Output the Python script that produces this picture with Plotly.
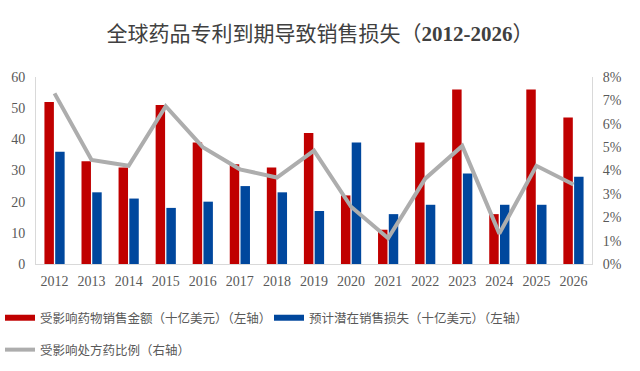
import plotly.graph_objects as go

years = ["2012","2013","2014","2015","2016","2017","2018","2019","2020","2021","2022","2023","2024","2025","2026"]
sales = [52, 33, 31, 51, 39, 32, 31, 42, 22, 11, 39, 56, 16, 56, 47]
loss = [36, 23, 21, 18, 20, 25, 23, 17, 39, 16, 19, 29, 19, 19, 28]
ratio = [7.3, 4.45, 4.2, 6.75, 5.0, 4.05, 3.7, 4.85, 2.45, 1.1, 3.65, 5.05, 1.3, 4.2, 3.4]

names = ["受影响药物销售金额（十亿美元）（左轴）", "预计潜在销售损失（十亿美元）（左轴）", "受影响处方药比例（右轴）"]
red = "#C00000"
blue = "#00479D"
gray = "#ADADAD"

font_main = "Liberation Serif, Noto Sans CJK SC, serif"

fig = go.Figure()
fig.add_trace(go.Bar(x=years, y=sales, name=names[0], marker_color=red,
                     marker_line_width=0, showlegend=False))
fig.add_trace(go.Bar(x=years, y=loss, name=names[1], marker_color=blue,
                     marker_line_width=0, showlegend=False))
fig.add_trace(go.Scatter(x=years, y=ratio, name=names[2], mode="lines",
                         line=dict(color=gray, width=4), yaxis="y2", legend="legend2"))
# legend keys drawn as thick lines as in the reference
fig.add_trace(go.Scatter(x=[None], y=[None], name=names[0], mode="lines",
                         line=dict(color=red, width=6), legend="legend"))
fig.add_trace(go.Scatter(x=[None], y=[None], name=names[1], mode="lines",
                         line=dict(color=blue, width=6), legend="legend"))

legfont = dict(family=font_main, size=12.5, color="#595959")
tickfont = dict(family=font_main, size=14, color="#595959")

fig.update_layout(
    width=640, height=371,
    paper_bgcolor="white", plot_bgcolor="white",
    margin=dict(l=36, r=48, t=77, b=107, autoexpand=False),
    title=dict(text="全球药品专利到期导致销售损失（<b>2012-2026</b>）", x=0.5, xanchor="center",
               y=0.91, yanchor="middle",
               font=dict(family=font_main, size=21, color="#404040")),
    barmode="group", bargap=0.42, bargroupgap=0.12,
    showlegend=True,
    legend=dict(orientation="h", xref="container", yref="container", x=-0.006, xanchor="left",
                y=0.183, yanchor="top", entrywidth=224,
                font=legfont, itemwidth=30, bgcolor="rgba(0,0,0,0)"),
    legend2=dict(orientation="h", xref="container", yref="container", x=-0.006, xanchor="left",
                 y=0.097, yanchor="top",
                 font=legfont, itemwidth=30, bgcolor="rgba(0,0,0,0)"),
    xaxis=dict(showline=True, linecolor="#D9D9D9", linewidth=1, ticks="",
               tickfont=tickfont, showgrid=False, ticklabelstandoff=4),
    yaxis=dict(range=[0, 60], dtick=10, showline=True, linecolor="#D9D9D9", linewidth=1,
               showgrid=False, zeroline=False, ticks="", ticklabelstandoff=7,
               tickfont=tickfont),
    yaxis2=dict(range=[0, 8], dtick=1, overlaying="y", side="right", ticksuffix="%",
                showline=True, linecolor="#D9D9D9", linewidth=1, showgrid=False,
                zeroline=False, ticks="", ticklabelstandoff=7,
                tickfont=tickfont),
)

fig.write_html("out.html", config={"displayModeBar": False},
               post_script="document.body.style.margin='0';")
